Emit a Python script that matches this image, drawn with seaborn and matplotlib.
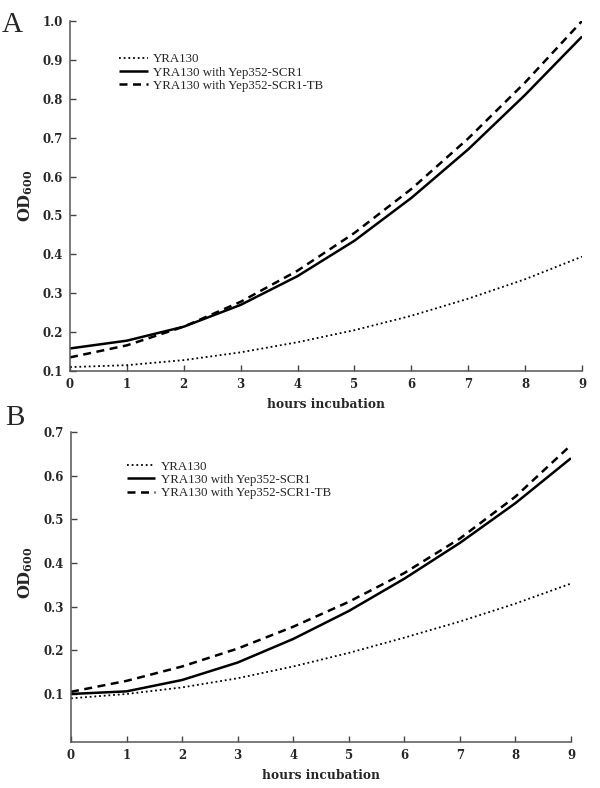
import pandas as pd
import numpy as np
import seaborn as sns
import matplotlib.pyplot as plt

hours = [0, 1, 2, 3, 4, 5, 6, 7, 8, 9]
labels = ['YRA130', 'YRA130 with Yep352-SCR1', 'YRA130 with Yep352-SCR1-TB']

# panel A
a_ctrl = [0.110, 0.115, 0.128, 0.148, 0.174, 0.205, 0.242, 0.286, 0.336, 0.394]
a_scr1 = [0.158, 0.178, 0.214, 0.270, 0.344, 0.435, 0.545, 0.670, 0.810, 0.960]
a_scr1tb = [0.135, 0.166, 0.214, 0.278, 0.358, 0.455, 0.568, 0.698, 0.842, 1.000]

# panel B
b_ctrl = [0.090, 0.100, 0.115, 0.136, 0.163, 0.194, 0.229, 0.266, 0.307, 0.353]
b_scr1 = [0.100, 0.106, 0.132, 0.172, 0.226, 0.290, 0.364, 0.446, 0.537, 0.640]
b_scr1tb = [0.105, 0.130, 0.163, 0.204, 0.254, 0.311, 0.377, 0.456, 0.552, 0.670]

sns.set_style('ticks')
plt.rcParams['font.family'] = ['Liberation Serif', 'DejaVu Serif']
plt.rcParams['mathtext.fontset'] = 'dejavuserif'

dashes = {labels[0]: (1, 1.6), labels[1]: '', labels[2]: (3.2, 2.2)}
widths = [1.3, 1.8, 1.8]
tick_font = {'family': 'DejaVu Serif', 'weight': 'bold', 'size': 8.5}


def panel(ax, ctrl, scr1, scr1tb, ylim, yticks, leg_xy, ylab_xy):
    df = pd.DataFrame({
        'hours': hours * 3,
        'od': ctrl + scr1 + scr1tb,
        'strain': [labels[0]] * 10 + [labels[1]] * 10 + [labels[2]] * 10,
    })
    sns.lineplot(data=df, x='hours', y='od', style='strain', dashes=dashes,
                 color='black', ax=ax, legend=False)
    for ln, w in zip(ax.get_lines(), widths):
        ln.set_linewidth(w)
        ln.set_solid_capstyle('butt')
    ax.set_xlim(0, 9)
    ax.set_ylim(*ylim)
    ax.set_xticks(hours)
    ax.set_yticks(yticks)
    ax.set_yticklabels(['%.1f' % t for t in yticks])
    ax.tick_params(direction='in', length=4, width=1, color='#444444', pad=5)
    for lab in ax.get_xticklabels() + ax.get_yticklabels():
        lab.set_fontproperties(tick_font)
    sns.despine(ax=ax)
    for s in ['left', 'bottom']:
        ax.spines[s].set_color('#555555')
        ax.spines[s].set_linewidth(1.1)
    ax.set_xlabel('hours incubation', family='DejaVu Serif', fontsize=8.8,
                  fontweight='bold', labelpad=5)
    ax.set_ylabel(r'$\mathbf{OD_{600}}$', fontsize=11.5)
    ax.yaxis.set_label_coords(*ylab_xy)
    ax.legend(ax.get_lines(), labels, loc='upper left', bbox_to_anchor=leg_xy,
              frameon=False, fontsize=9.3, handlelength=2.2, handletextpad=0.4,
              labelspacing=0.1, borderaxespad=0, borderpad=0)


fig = plt.figure(figsize=(6, 7.88), dpi=100)
ax1 = fig.add_axes([70 / 600, 1 - 371 / 788, 512 / 600, 350 / 788])
ax2 = fig.add_axes([71 / 600, 1 - 742 / 788, 500 / 600, 310 / 788])

panel(ax1, a_ctrl, a_scr1, a_scr1tb, (0.1, 1.0), [0.1, 0.2, 0.3, 0.4, 0.5, 0.6, 0.7, 0.8, 0.9, 1.0],
      (0.096, 0.908), (-0.068, 0.5))
panel(ax2, b_ctrl, b_scr1, b_scr1tb, (-0.01, 0.7), [0.1, 0.2, 0.3, 0.4, 0.5, 0.6, 0.7],
      (0.112, 0.908), (-0.072, 0.545))

fig.text(0.003, 1 - 32 / 788, 'A', fontsize=21)
fig.text(0.008, 1 - 425 / 788, 'B', fontsize=21)

fig.savefig('out.png', dpi=100)
